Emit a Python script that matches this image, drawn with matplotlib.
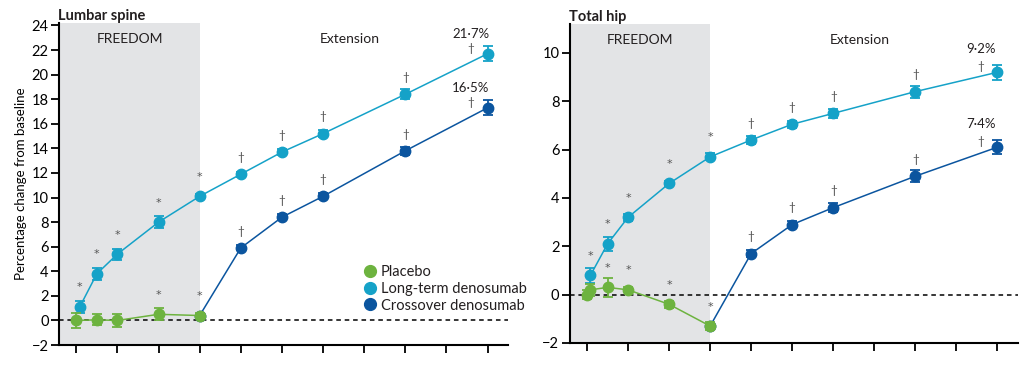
import numpy as np
import matplotlib.pyplot as plt

plt.rcParams['font.family'] = ['Lato', 'DejaVu Sans']
plt.rcParams['text.color'] = '#231f20'

GREEN = '#6db33f'
CYAN = '#15a2c8'
DARK = '#0b559f'
GREY = '#e3e4e6'

# years since FREEDOM baseline
# ---- lumbar spine ----
ls_pla_x = [0, 0.5, 1, 2, 3]
ls_pla_y = [0.0, 0.05, 0.0, 0.5, 0.4]
ls_pla_e = [0.6, 0.45, 0.5, 0.5, 0.2]
ls_pla_star = [False, False, False, True, True]

ls_lt_x = [1 / 12, 0.5, 1, 2, 3, 4, 5, 6, 8, 10]
ls_lt_y = [1.1, 3.8, 5.4, 8.0, 10.1, 11.9, 13.7, 15.2, 18.4, 21.7]
ls_lt_e = [0.5, 0.5, 0.45, 0.5, 0.2, 0.2, 0.25, 0.3, 0.4, 0.6]

ls_co_x = [3, 4, 5, 6, 8, 10]
ls_co_y = [0.4, 5.9, 8.4, 10.1, 13.8, 17.3]
ls_co_e = [0.0, 0.2, 0.25, 0.25, 0.35, 0.6]

# ---- total hip ----
th_pla_x = [0, 1 / 12, 0.5, 1, 2, 3]
th_pla_y = [0.0, 0.2, 0.3, 0.2, -0.4, -1.3]
th_pla_e = [0.2, 0.25, 0.4, 0.1, 0.15, 0.15]
th_pla_star = [False, False, True, True, True, True]

th_lt_x = [1 / 12, 0.5, 1, 2, 3, 4, 5, 6, 8, 10]
th_lt_y = [0.8, 2.1, 3.2, 4.6, 5.7, 6.4, 7.05, 7.5, 8.4, 9.2]
th_lt_e = [0.3, 0.3, 0.15, 0.12, 0.15, 0.15, 0.15, 0.2, 0.25, 0.3]

th_co_x = [3, 4, 5, 6, 8, 10]
th_co_y = [-1.3, 1.7, 2.9, 3.6, 4.9, 6.1]
th_co_e = [0.0, 0.15, 0.15, 0.2, 0.25, 0.3]

years = np.arange(0, 11)


def series(ax, x, y, e, color, z):
    ax.errorbar(x, y, yerr=e, color=color, lw=1.1, marker='o', ms=7.5,
                mec=color, elinewidth=1.3, capsize=3.5, capthick=1.3, zorder=z)


def mark(ax, x, y, s, dx=0, dy=12):
    if s == '*':
        ax.annotate(s, (x, y), xytext=(dx, dy), textcoords='offset points',
                    ha='center', va='center', fontsize=8, color='#555555',
                    family='DejaVu Sans')
    else:
        ax.annotate(s, (x, y), xytext=(dx, dy), textcoords='offset points',
                    ha='center', va='center', fontsize=8.5, color='#555555')


def panel(ax, title, ylim, yticks, pla, lt, co, lab_lt, lab_co, dlab):
    ax.axvspan(-0.5, 3, color=GREY, lw=0, zorder=0)
    ax.axhline(0, color='black', ls=(0, (3, 2.5)), lw=1.1, zorder=1)
    series(ax, co[0], co[1], co[2], DARK, 3)
    series(ax, lt[0], lt[1], lt[2], CYAN, 4)
    series(ax, pla[0], pla[1], pla[2], GREEN, 5)

    # significance marks
    for xi, yi in zip(lt[0], lt[1]):
        if xi <= 3:
            mark(ax, xi, yi, '*', dy=14)
        elif xi < 10:
            mark(ax, xi, yi, '†', dy=12)
    for xi, yi, s in zip(pla[0], pla[1], pla[3]):
        if s:
            mark(ax, xi, yi, '*', dy=14)
    for xi, yi in zip(co[0][1:-1], co[1][1:-1]):
        mark(ax, xi, yi, '†', dy=12)
    mark(ax, lt[0][-1], lt[1][-1], '†', dx=-12, dy=4)
    mark(ax, co[0][-1], co[1][-1], '†', dx=-12, dy=4)
    ax.annotate(lab_lt, (lt[0][-1], lt[1][-1]), xytext=(-12, dlab),
                textcoords='offset points', ha='center', va='center', fontsize=9.5)
    ax.annotate(lab_co, (co[0][-1], co[1][-1]), xytext=(-12, dlab),
                textcoords='offset points', ha='center', va='center', fontsize=9.5)

    ax.text(1.3, 0.95, 'FREEDOM', transform=ax.get_xaxis_transform(),
            ha='center', va='center', fontsize=10)
    ax.text(6.65, 0.95, 'Extension', transform=ax.get_xaxis_transform(),
            ha='center', va='center', fontsize=10)

    ax.set_xlim(-0.42, 10.5)
    ax.set_ylim(*ylim)
    ax.set_xticks(years)
    ax.set_xticklabels([])
    ax.set_yticks(yticks)
    ax.set_yticklabels([str(t).replace('-', '\u2212') for t in yticks])
    for side in ['top', 'right']:
        ax.spines[side].set_visible(False)
    for side in ['left', 'bottom']:
        ax.spines[side].set_linewidth(1.5)
    ax.tick_params(axis='both', width=1.3, length=6, labelsize=10.5, pad=1.5)
    ax.set_title(title, loc='left', fontweight='bold', fontsize=10.5,
                 x=-0.002, y=1.01, pad=0)


fig = plt.figure(figsize=(10.23, 3.71), dpi=100)
ax1 = fig.add_axes([0.0577, 0.070, 0.439, 0.868])
ax2 = fig.add_axes([0.557, 0.0755, 0.438, 0.860])

panel(ax1, 'Lumbar spine', (-2, 24.2), list(range(-2, 25, 2)),
      (ls_pla_x, ls_pla_y, ls_pla_e, ls_pla_star),
      (ls_lt_x, ls_lt_y, ls_lt_e), (ls_co_x, ls_co_y, ls_co_e),
      '21\u00b77%', '16\u00b75%', 14)
panel(ax2, 'Total hip', (-2, 11.2), list(range(-2, 11, 2)),
      (th_pla_x, th_pla_y, th_pla_e, th_pla_star),
      (th_lt_x, th_lt_y, th_lt_e), (th_co_x, th_co_y, th_co_e),
      '9\u00b72%', '7\u00b74%', 17)

ax1.set_ylabel('Percentage change from baseline', fontsize=9.5, labelpad=3)

handles = [plt.Line2D([], [], ls='', marker='o', ms=8.5, color=c)
           for c in (GREEN, CYAN, DARK)]
ax1.legend(handles, ['Placebo', 'Long-term denosumab', 'Crossover denosumab'],
           loc='upper left', bbox_to_anchor=(0.661, 0.272), frameon=False,
           fontsize=10.5, handletextpad=0.2, handlelength=1.0,
           labelspacing=0.2, borderpad=0)

fig.savefig('out.png', dpi=100)
